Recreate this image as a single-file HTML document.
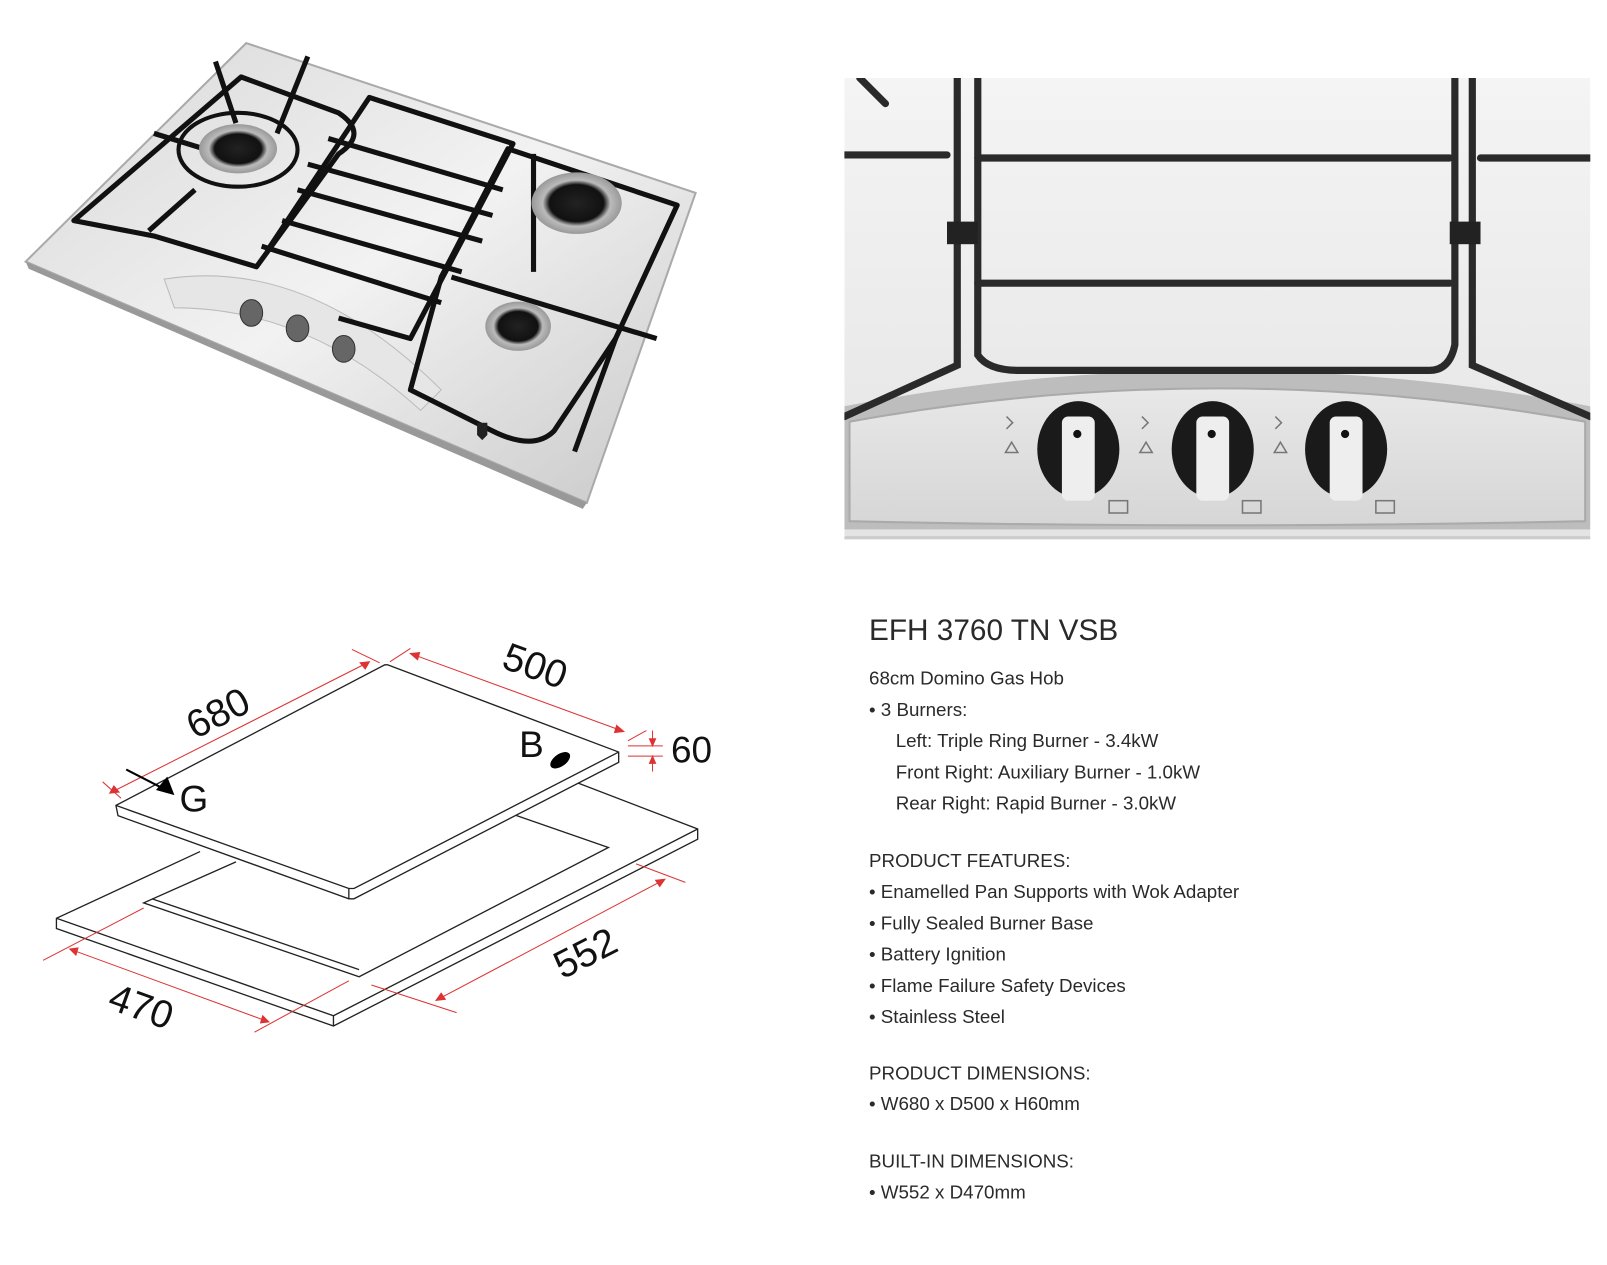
<!DOCTYPE html>
<html><head><meta charset="utf-8"><style>
html,body{margin:0;padding:0;background:#fff;}
body{width:1607px;height:1233px;position:relative;overflow:hidden;font-family:"Liberation Sans",sans-serif;}
#w{position:absolute;left:0;top:0;width:1607px;height:1233px;transform:scale(1.026);transform-origin:0 0;}
.t{position:absolute;left:847px;color:#2a2a2a;font-size:18.3px;line-height:20px;white-space:nowrap;}
</style></head><body><div id="w">

<!-- Top-left hob photo -->
<svg style="position:absolute;left:0;top:0" width="800" height="560">
<defs>
<linearGradient id="st" x1="0" y1="0" x2="1" y2="1">
<stop offset="0" stop-color="#d8d8d8"/><stop offset="0.5" stop-color="#f2f2f2"/><stop offset="1" stop-color="#c8c8c8"/></linearGradient>
<radialGradient id="bn"><stop offset="0" stop-color="#222"/><stop offset="0.6" stop-color="#111"/><stop offset="0.75" stop-color="#bbb"/><stop offset="1" stop-color="#999"/></radialGradient>
</defs>
<polygon points="240,42 678,188 572,490 25,255" fill="url(#st)" stroke="#aaa" stroke-width="2"/>
<polygon points="25,255 572,490 568,496 28,262" fill="#999"/>
<path d="M160,272 Q300,250 430,380 L410,400 Q300,300 170,300 Z" fill="#e6e6e6" stroke="#bbb"/>
<g fill="none" stroke="#111" stroke-width="5" stroke-linejoin="round">
<path d="M72,215 L235,75 L330,110 Q360,130 330,150 L250,260 L150,230 Z"/>
<path d="M260,245 L360,95 L500,140 L400,330 L330,310"/>
<path d="M290,185 L470,235 M300,160 L480,210 M320,135 L490,185 M275,215 L450,265 M255,240 L430,295"/>
<path d="M495,145 L660,200 L600,330 L540,420 Q520,440 480,420 L400,380 L430,270 Z"/>
<path d="M440,270 L640,330 M520,150 L520,265 M600,330 L560,440"/>
<path d="M150,130 L215,150 M210,60 L230,120 M300,55 L270,130 M145,225 L190,185"/>
</g>
<ellipse cx="232" cy="146" rx="58" ry="36" fill="none" stroke="#111" stroke-width="4"/>
<ellipse cx="232" cy="145" rx="38" ry="24" fill="url(#bn)"/>
<ellipse cx="562" cy="198" rx="44" ry="30" fill="url(#bn)"/>
<ellipse cx="505" cy="318" rx="32" ry="24" fill="url(#bn)"/>
<g fill="#666" stroke="#333"><ellipse cx="245" cy="305" rx="11" ry="13"/><ellipse cx="290" cy="320" rx="11" ry="13"/><ellipse cx="335" cy="340" rx="11" ry="13"/></g>
<path d="M465,412 l10,0 l0,12 l-5,5 l-5,-5 z" fill="#222"/>
</svg>

<!-- Top-right close-up photo -->
<svg style="position:absolute;left:823px;top:76px" width="727" height="450">
<defs>
<linearGradient id="bg2" x1="0" y1="0" x2="0" y2="1"><stop offset="0" stop-color="#f4f4f4"/><stop offset="1" stop-color="#e4e4e4"/></linearGradient>
<linearGradient id="pn" x1="0" y1="0" x2="0" y2="1"><stop offset="0" stop-color="#e8e8e8"/><stop offset="1" stop-color="#d6d6d6"/></linearGradient>
</defs>
<rect width="727" height="450" fill="url(#bg2)"/>
<path d="M0,320 Q363,250 727,320 L727,440 L0,440 Z" fill="#bdbdbd"/>
<path d="M5,335 Q363,270 722,335 L722,432 Q363,440 5,432 Z" fill="url(#pn)" stroke="#aaa" stroke-width="2"/>
<g fill="none" stroke="#2a2a2a" stroke-width="7" stroke-linecap="round">
<path d="M0,75 L100,75 M130,78 L590,78 M620,78 L727,78"/>
<path d="M130,200 L590,200"/>
<path d="M110,0 L110,280 L0,330"/>
<path d="M130,0 L130,270 Q140,285 170,285 L570,285 Q590,285 595,260 L595,0"/>
<path d="M612,0 L612,280 L727,330"/>
<path d="M15,0 L40,25"/>
</g>
<rect x="100" y="140" width="30" height="22" fill="#222"/><rect x="590" y="140" width="30" height="22" fill="#222"/>
<g>
<ellipse cx="228" cy="362" rx="40" ry="47" fill="#1a1a1a"/><rect x="212" y="330" width="32" height="82" rx="6" fill="#eee"/><circle cx="227" cy="347" r="4" fill="#111"/>
<ellipse cx="359" cy="362" rx="40" ry="47" fill="#1a1a1a"/><rect x="343" y="330" width="32" height="82" rx="6" fill="#eee"/><circle cx="358" cy="347" r="4" fill="#111"/>
<ellipse cx="489" cy="362" rx="40" ry="47" fill="#1a1a1a"/><rect x="473" y="330" width="32" height="82" rx="6" fill="#eee"/><circle cx="488" cy="347" r="4" fill="#111"/>
</g>
<g fill="none" stroke="#777" stroke-width="1.5">
<path d="M158,330 l6,6 l-6,6 M163,355 l-6,10 h12 z M290,330 l6,6 l-6,6 M294,355 l-6,10 h12 z M420,330 l6,6 l-6,6 M425,355 l-6,10 h12 z"/>
<rect x="258" y="412" width="18" height="12"/><rect x="388" y="412" width="18" height="12"/><rect x="518" y="412" width="18" height="12"/>
</g>
<line x1="0" y1="448" x2="727" y2="448" stroke="#ccc" stroke-width="3"/>
</svg>

<!-- Dimension diagram -->
<svg style="position:absolute;left:0;top:600px" width="800" height="440" font-family="Liberation Sans, sans-serif">
<g transform="translate(0,-600)" fill="none" stroke="#222" stroke-width="1.3">
<path d="M195,830 L55,895 L55,905 L325,1000 L680,818 L680,808 L555,760"/>
<path d="M55,895 L325,990 L680,808"/>
<path d="M325,990 L325,1000"/>
<path d="M230,840 L140,880 L350,952 L593,826 L498,793"/>
<path d="M148,876 L350,945"/>
<path d="M378,648 L603,733 L603,743 L345,876 L340,876 L115,795 L113,785 L375,648 Z" fill="#fff"/>
<path d="M113,785 L340,866 L345,866 L603,733"/>
<path d="M340,866 L340,876"/>
</g>
<g transform="translate(0,-600)" stroke="#d33" stroke-width="1" fill="#d33">
<line x1="107" y1="773" x2="360" y2="645"/><line x1="100" y1="762" x2="118" y2="778"/><line x1="343" y1="633" x2="370" y2="646"/>
<line x1="400" y1="637" x2="608" y2="713"/><line x1="380" y1="645" x2="400" y2="632"/><line x1="612" y1="722" x2="630" y2="712"/>
<line x1="612" y1="727" x2="646" y2="727"/><line x1="612" y1="737" x2="646" y2="737"/><line x1="636" y1="712" x2="636" y2="727"/><line x1="636" y1="737" x2="636" y2="752"/>
<line x1="425" y1="975" x2="648" y2="857"/><line x1="362" y1="960" x2="445" y2="987"/><line x1="620" y1="842" x2="668" y2="860"/>
<line x1="68" y1="925" x2="262" y2="996"/><line x1="42" y1="936" x2="140" y2="885"/><line x1="248" y1="1006" x2="340" y2="956"/>
<path d="M107,773 l9,-1 l-5,-6 z M360,645 l-9,1 l5,6 z M400,637 l7,6 l2,-7 z M608,713 l-7,-6 l-2,7 z M636,727 l-3,-7 h6 z M636,737 l-3,7 h6 z M425,975 l9,-1 l-4,-6 z M648,857 l-9,1 l4,6 z M68,925 l6,6 l2,-7 z M262,996 l-6,-6 l-2,7 z"/>
</g>
<g transform="translate(0,-600)">
<line x1="123" y1="750" x2="158" y2="768" stroke="#000" stroke-width="2"/>
<path d="M170,775 L152,770 L163,757 Z" fill="#000"/>
<ellipse cx="546" cy="741" rx="11" ry="6" transform="rotate(-35 546 741)" fill="#000"/>
<g font-size="38" fill="#111">
<text x="212" y="708" text-anchor="middle" transform="rotate(-27 212 694)">680</text>
<text x="522" y="662" text-anchor="middle" transform="rotate(20 522 648)">500</text>
<text x="570" y="942" text-anchor="middle" transform="rotate(-27 570 928)">552</text>
<text x="138" y="994" text-anchor="middle" transform="rotate(20 138 980)">470</text>
<text x="654" y="743" font-size="36">60</text>
<text x="506" y="738" font-size="36">B</text>
<text x="175" y="791" font-size="36">G</text>
</g>
</g>
</svg>

<div class="t" style="top:598px;font-size:29px;line-height:34px;">EFH 3760 TN VSB</div>
<div class="t" style="top:651px">68cm Domino Gas Hob</div>
<div class="t" style="top:682px">• 3 Burners:</div>
<div class="t" style="top:712px;left:873px">Left: Triple Ring Burner - 3.4kW</div>
<div class="t" style="top:743px;left:873px">Front Right: Auxiliary Burner - 1.0kW</div>
<div class="t" style="top:773px;left:873px">Rear Right: Rapid Burner - 3.0kW</div>
<div class="t" style="top:829px">PRODUCT FEATURES:</div>
<div class="t" style="top:859px">• Enamelled Pan Supports with Wok Adapter</div>
<div class="t" style="top:890px">• Fully Sealed Burner Base</div>
<div class="t" style="top:920px">• Battery Ignition</div>
<div class="t" style="top:951px">• Flame Failure Safety Devices</div>
<div class="t" style="top:981px">• Stainless Steel</div>
<div class="t" style="top:1036px">PRODUCT DIMENSIONS:</div>
<div class="t" style="top:1066px">• W680 x D500 x H60mm</div>
<div class="t" style="top:1122px">BUILT-IN DIMENSIONS:</div>
<div class="t" style="top:1152px">• W552 x D470mm</div>
</div></body></html>
